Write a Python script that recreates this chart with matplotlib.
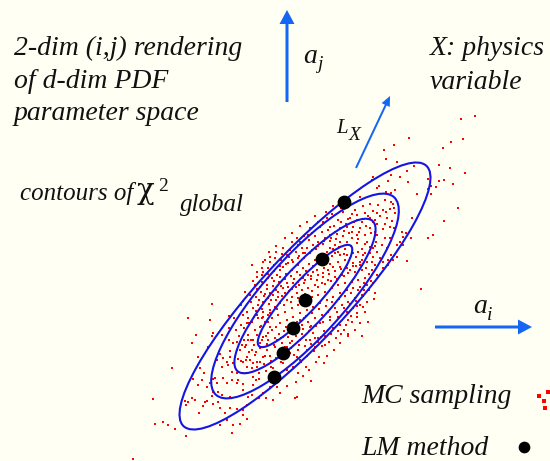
import matplotlib
matplotlib.use('Agg')
import matplotlib.pyplot as plt
from matplotlib.patches import Ellipse
import numpy as np

# everything is in pixel units of the 550x461 picture (y grows downwards)

# chi^2 contours: common centre, full axes lengths, tilt
ell_center = (305, 296)
ell_width = [136, 202, 266, 356]
ell_height = [30, 55, 80, 87]
ell_angle = [47.5, 48, 48, 47]

# LM method points
lm_x = [344, 322, 305, 293, 283, 274]
lm_y = [202, 259, 300, 328, 353, 377]

# MC sampling points (approximate in the dense core)
mc_samples = [
    # top right
    (475, 116), (461, 119), (409, 138), (463, 139), (451, 142), (394, 145), (443, 148),
    (384, 150), (386, 159), (397, 162), (439, 165), (450, 168), (414, 166), (465, 173),
    (407, 171), (391, 175), (400, 177), (373, 177), (372, 180), (428, 179), (444, 180),
    (439, 181), (408, 182), (388, 181), (453, 184), (431, 186), (436, 187), (379, 186),
    (377, 188), (395, 190), (386, 192), (391, 193), (417, 194), (431, 194), (428, 189),
    # left of the cloud
    (212, 304), (188, 318), (210, 320), (243, 301), (229, 316), (243, 315), (234, 318),
    (248, 318), (241, 325), (247, 323), (229, 328),
    # right side
    (385, 200), (391, 202), (393, 204), (373, 211), (377, 213), (383, 210), (386, 212),
    (390, 209), (394, 208), (395, 213), (370, 218), (380, 216), (387, 218), (392, 221),
    (373, 222), (377, 224), (385, 224), (390, 227), (370, 228), (375, 232), (383, 229),
    (394, 228), (402, 232), (406, 233), (411, 238), (428, 238), (433, 235), (444, 221),
    (458, 208), (412, 218), (403, 237), (400, 242), (397, 245), (390, 238), (385, 238),
    (377, 235), (376, 242), (382, 245), (373, 248), (370, 253), (377, 252), (373, 257),
    (387, 248), (391, 255), (403, 245), (397, 257), (407, 261), (388, 265), (383, 268),
    (375, 265), (377, 275), (373, 283), (375, 293), (374, 299), (421, 289), (380, 258),
    (383, 262), (372, 270), (393, 260), (388, 260),
    # bottom left
    (196, 335), (212, 336), (213, 333), (192, 343), (208, 347), (198, 357), (172, 368),
    (200, 368), (204, 373), (193, 379), (202, 380), (213, 379), (222, 335), (229, 340),
    (233, 343), (237, 342), (230, 351), (237, 350), (242, 345), (245, 347), (248, 340),
    (247, 357), (243, 362), (238, 359), (220, 354), (223, 358), (227, 362), (230, 357),
    (233, 363), (217, 360), (222, 367), (228, 365), (232, 372), (237, 373), (243, 373),
    (247, 367), (238, 380), (243, 384), (223, 378), (215, 378), (217, 383), (227, 383),
    (232, 380), (237, 383), (210, 383), (207, 387), (198, 385), (213, 392), (218, 392),
    (222, 395), (212, 396), (207, 401), (205, 402), (218, 402), (213, 404), (203, 406),
    (192, 398), (195, 400), (188, 402), (185, 401), (186, 405), (220, 408), (230, 408),
    (237, 409), (243, 410), (225, 413), (199, 413), (227, 420), (220, 425), (233, 425),
    (240, 424), (243, 415), (247, 419), (232, 433), (186, 436), (175, 429), (168, 425),
    (163, 422), (155, 424), (153, 399), (133, 459), (248, 397), (243, 390), (230, 397),
    (247, 405),
    # bottom middle
    (341, 334), (348, 334), (321, 337), (325, 345), (319, 357), (324, 363), (295, 398),
    (297, 397), (273, 400), (263, 393), (266, 398), (259, 398), (252, 395), (277, 387),
    (270, 387), (273, 383), (271, 367), (277, 373), (256, 380), (259, 379), (253, 377),
    (257, 367), (250, 360), (253, 363), (260, 362), (263, 357), (255, 355), (252, 350),
    (260, 343), (268, 340), (277, 340), (287, 347), (290, 353), (297, 357), (300, 360),
    (307, 350), (310, 340), (315, 338), (300, 340), (290, 343), (283, 337), (275, 347),
    (267, 350), (263, 337), (257, 335), (253, 340), (315, 347), (306, 367), (293, 367),
    (298, 373), (283, 363), (287, 370), (280, 380), (270, 377), (253, 385),
    # core
    (360, 197), (355, 210), (357, 215), (365, 213), (350, 218), (343, 212), (338, 220),
    (330, 227), (323, 222), (320, 227), (310, 228), (308, 235), (300, 242), (297, 238),
    (292, 242), (283, 248), (287, 255), (275, 258), (270, 262), (268, 268), (263, 272),
    (257, 277), (252, 265), (255, 285), (250, 295), (262, 282), (267, 285), (272, 278),
    (277, 275), (280, 270), (283, 267), (288, 263), (293, 262), (298, 258), (303, 253),
    (307, 248), (313, 245), (318, 242), (325, 238), (330, 235), (335, 232), (340, 228),
    (347, 227), (353, 227), (360, 228), (365, 235), (367, 242), (357, 235), (352, 238),
    (347, 242), (340, 242), (335, 245), (330, 248), (335, 253), (340, 255), (347, 255),
    (353, 253), (358, 252), (365, 253), (367, 262), (360, 262), (353, 263), (347, 265),
    (340, 267), (333, 267), (328, 270), (323, 273), (318, 275), (313, 272), (308, 275),
    (303, 278), (298, 282), (293, 283), (288, 287), (283, 288), (278, 292), (273, 295),
    (268, 298), (263, 302), (258, 305), (253, 308), (257, 315), (263, 312), (270, 310),
    (275, 307), (280, 303), (287, 300), (292, 297), (297, 293), (302, 290), (308, 288),
    (315, 285), (322, 283), (328, 280), (335, 277), (342, 275), (348, 273), (355, 272),
    (362, 270), (365, 278), (358, 280), (352, 282), (345, 283), (338, 285), (332, 288),
    (325, 292), (318, 295), (312, 297), (305, 302), (298, 305), (292, 308), (285, 312),
    (278, 315), (272, 318), (265, 322), (260, 327), (270, 327), (280, 323), (287, 320),
    (293, 317), (300, 313), (307, 310), (313, 307), (320, 303), (327, 300), (333, 297),
    (340, 293), (347, 290), (353, 288), (360, 287), (367, 285), (362, 295), (355, 298),
    (348, 302), (342, 305), (335, 308), (328, 312), (322, 315), (315, 318), (308, 322),
    (302, 325), (295, 328), (310, 327), (320, 323), (330, 320), (338, 317), (347, 312),
    (353, 308), (360, 305), (367, 302), (365, 312), (357, 317), (348, 320), (340, 325),
    (333, 328), (360, 323), (368, 322),
    (262, 340), (268, 333), (274, 345), (281, 338), (289, 331), (296, 336), (303, 329),
    (256, 352), (265, 356), (271, 361), (278, 352), (285, 347), (292, 341), (299, 345),
    (306, 340), (313, 333), (318, 338), (324, 331), (311, 326), (304, 318), (297, 322),
    (290, 326), (284, 331), (276, 327), (268, 322), (263, 317), (270, 313), (277, 309),
    (284, 305), (291, 302), (298, 298), (305, 294), (312, 291), (318, 287), (325, 284),
    (331, 281), (337, 279), (344, 276), (350, 270), (356, 266), (362, 260), (345, 260),
    (338, 262), (330, 264), (324, 268), (317, 270), (311, 279), (304, 283), (296, 287),
    (289, 291), (282, 296), (276, 300), (269, 304), (262, 309), (256, 297), (261, 292),
    (267, 289), (273, 286), (279, 282), (285, 279), (291, 276), (297, 272), (303, 268),
    (309, 264), (315, 260), (321, 256), (327, 252), (333, 249), (339, 247), (345, 249),
    (351, 246), (357, 243), (362, 249), (349, 233), (343, 236), (336, 239), (330, 241),
    (323, 244), (316, 249), (310, 253), (304, 258), (298, 265), (292, 270), (286, 274),
    (280, 277), (274, 281), (268, 278), (262, 275), (274, 265), (281, 260), (289, 257),
    (296, 252), (302, 248), (309, 240), (315, 236), (322, 232), (328, 230), (334, 226),
    (341, 222), (348, 219), (354, 222), (359, 232), (366, 226), (371, 233), (375, 246),
    (372, 262), (369, 274), (364, 290), (357, 306), (351, 316), (344, 330), (336, 338),
    (329, 342), (322, 346), (314, 351), (307, 356), (301, 362), (294, 355), (287, 352),
    (281, 362), (273, 368), (266, 371), (259, 373), (252, 368), (246, 373), (241, 361),
    (249, 352), (254, 345), (248, 335), (244, 328), (252, 322), (258, 318), (247, 312),
    (241, 305), (251, 302), (245, 292), (257, 289), (263, 262), (269, 252), (276, 246),
    (285, 238), (292, 233), (300, 226), (307, 222), (315, 216), (326, 212), (333, 206),
    (339, 202), (348, 206), (316, 362), (309, 370), (327, 356), (334, 350), (340, 343),
    (348, 336), (355, 330), (362, 336), (303, 376), (296, 382), (287, 386), (280, 393),
    (311, 381), (289, 372),
    (255, 330), (261, 326), (266, 336), (272, 330), (279, 334), (286, 327), (293, 324),
    (300, 320), (306, 316), (312, 313), (319, 309), (326, 306), (332, 302), (339, 299),
    (345, 296), (351, 293), (358, 290), (364, 283), (260, 348), (267, 344), (275, 338),
    (282, 343), (288, 337), (295, 332), (302, 334), (309, 331), (316, 326), (323, 322),
    (330, 317), (337, 312), (344, 308), (350, 304), (356, 301), (363, 296), (369, 290),
    (371, 281), (246, 345), (251, 340), (257, 362), (264, 364), (270, 356), (276, 358),
    (283, 356), (291, 348), (298, 350), (305, 346), (311, 344), (318, 342), (325, 336),
    (331, 334), (338, 331), (346, 325), (352, 322), (357, 313), (363, 307), (249, 323),
    (256, 311), (259, 300), (264, 296), (270, 293), (276, 290), (281, 286), (287, 283),
    (294, 279), (300, 275), (306, 271), (313, 266), (319, 263), (326, 259), (332, 256),
    (338, 252), (344, 254), (350, 258), (356, 257), (363, 255), (370, 247), (365, 244),
    (358, 239), (352, 232), (344, 231), (337, 234), (331, 238), (324, 241), (318, 246),
    (312, 250), (305, 253), (299, 256), (292, 260), (286, 264), (280, 266), (274, 271),
    (268, 274), (262, 268), (257, 272), (253, 281), (260, 287), (265, 294), (271, 300),
    (278, 297), (285, 293), (292, 289), (299, 285), (305, 280), (311, 276), (317, 280),
    (323, 277), (329, 274), (335, 271), (341, 269), (347, 268), (353, 266), (360, 265),
    (366, 268), (262, 318), (268, 315), (254, 317), (239, 336), (236, 330), (244, 340),
    (240, 350), (246, 360), (352, 214), (346, 224), (357, 220), (362, 222), (368, 216),
    (375, 220), (378, 205), (370, 204), (363, 206), (341, 208), (332, 214), (327, 218),
    (318, 222), (312, 233), (304, 236), (298, 245), (290, 250), (282, 254), (276, 252),
    (270, 257), (265, 260),
]

# legend symbols
key_mc_x = [539, 548, 544, 545]
key_mc_y = [396, 392, 401, 408]
key_lm = (524, 447)

bg = '#fffff3'
arrow_blue = '#1466f5'
ell_blue = '#1414e6'

plt.rcParams['font.family'] = ['Liberation Serif', 'DejaVu Serif']

fig = plt.figure(figsize=(5.5, 4.61), dpi=100, facecolor=bg)
ax = fig.add_axes([0, 0, 1, 1])
ax.set_xlim(0, 550)
ax.set_ylim(461, 0)
ax.axis('off')

mc = np.array(mc_samples)
ax.scatter(mc[:, 0], mc[:, 1], s=4, c='#ff0000', marker='s', linewidths=0, zorder=2)

for w, h, ang in zip(ell_width, ell_height, ell_angle):
    ax.add_patch(Ellipse(ell_center, w, h, angle=-ang, fill=False,
                         edgecolor=ell_blue, linewidth=1.5, zorder=3))

ax.scatter(lm_x, lm_y, s=80, c='black', zorder=4)

# arrows
ax.arrow(287, 102, 0, -92, width=3, head_width=15, head_length=14,
         length_includes_head=True, color=arrow_blue, linewidth=0)
ax.arrow(435, 327, 97, 0, width=3, head_width=15, head_length=14,
         length_includes_head=True, color=arrow_blue, linewidth=0)
ax.arrow(356, 168, 34, -72, width=2, head_width=9, head_length=10,
         length_includes_head=True, color=arrow_blue, linewidth=0)

it = dict(fontstyle='italic', fontsize=20, va='baseline', ha='left', color='#111111')
ax.text(14, 55, '2-dim (i,j) rendering', **it)
ax.text(14, 88, 'of d-dim PDF', **it)
ax.text(14, 120, 'parameter space', **it)
ax.text(20, 200, 'contours of', **{**it, 'fontsize': 18})
ax.text(137, 199, '\u03c7', fontsize=21, family='DejaVu Serif',
        va='baseline', ha='left', color='#111111')
ax.text(158, 191, '2', fontsize=14, va='baseline', ha='left', color='#111111')
ax.text(180, 211, 'global', **{**it, 'fontsize': 18})

ax.text(430, 55, 'X: physics', **it)
ax.text(430, 89, 'variable', **it)

ax.text(303, 63, 'a', **it)
ax.text(317, 69, 'j', **{**it, 'fontsize': 14})
ax.text(473, 313, 'a', **it)
ax.text(487, 320, 'i', **{**it, 'fontsize': 14})
ax.text(336, 133, 'L', **{**it, 'fontsize': 15})
ax.text(349, 140, 'X', **{**it, 'fontsize': 14})

ax.text(361, 403, 'MC sampling', **it)
ax.text(361, 455, 'LM method', **it)
ax.scatter(key_mc_x, key_mc_y, s=5, c='#ff0000', marker='s', linewidths=0)
ax.scatter([key_lm[0]], [key_lm[1]], s=55, c='black')

fig.savefig('out.png', dpi=100, facecolor=bg)
